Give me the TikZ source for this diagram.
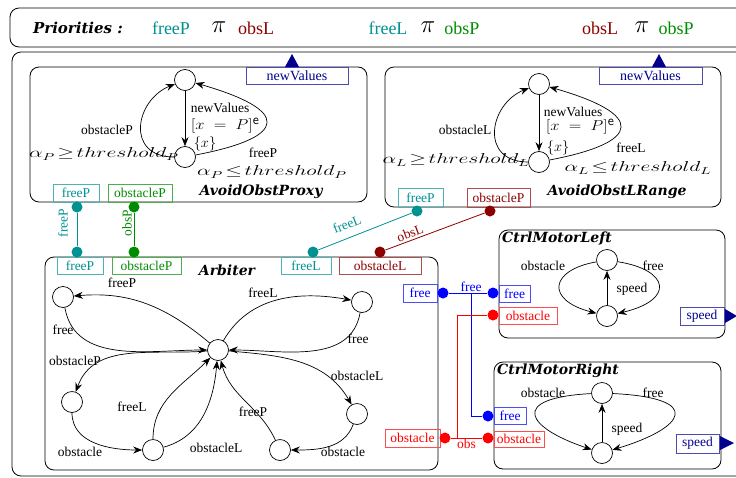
\documentclass[tikz,border=0pt]{standalone}
\usepackage{fontspec}
\setmainfont{Liberation Serif}
\newfontfamily\titlefont{DejaVu Serif}
\usetikzlibrary{positioning,arrows.meta}

\definecolor{cteal}{RGB}{0,145,145}
\definecolor{cgreen}{RGB}{0,140,0}
\definecolor{cdred}{RGB}{140,0,0}
\definecolor{cblue}{RGB}{0,0,255}
\definecolor{cred}{RGB}{255,0,0}
\definecolor{cnavy}{RGB}{0,0,140}

\newcommand{\lbl}{\fontsize{13.5}{15}\selectfont}
\newcommand{\mlbl}{\fontsize{14}{16}\selectfont}
\newcommand{\guard}[1]{\scalebox{1.5}[1]{$#1$}}

\tikzset{
  comp/.style={draw, rounded corners=9pt, line width=0.8pt},
  state/.style={circle, draw, line width=0.7pt, minimum size=21pt, inner sep=0pt},
  port/.style={draw=#1!70, text=#1, rectangle, line width=0.8pt, inner sep=0pt,
    minimum height=18pt, font=\lbl},
  pdot/.style={circle, fill=#1, inner sep=0pt, minimum size=11pt},
  trans/.style={-{Stealth[length=9pt,width=7pt,inset=3pt]}, line width=0.7pt},
  lab/.style={font=\lbl, inner sep=1pt},
  mlab/.style={font=\mlbl, inner sep=1pt},
  title/.style={font=\titlefont\bfseries\itshape\fontsize{14}{16}\selectfont, inner sep=0pt},
  prio/.style={font=\fontsize{18}{20}\selectfont, inner sep=0pt},
  link/.style={draw=#1, line width=0.8pt},
}

\begin{document}
\begin{tikzpicture}[x=1pt, y=-1pt]
\useasboundingbox (0,0) rectangle (736,477);

% priorities
\draw[comp] (10,8) rectangle (760,47);
\node[title, font=\titlefont\bfseries\itshape\fontsize{15}{17}\selectfont] (prtitle) at (78,28) {Priorities :};
\node[prio, text=cteal] (pr1a) at (171,28) {freeP};
\node[prio, font=\fontsize{26}{28}\selectfont] (pr1b) at (219,27) {$\pi$};
\node[prio, text=cdred] (pr1c) at (256,28) {obsL};
\node[prio, text=cteal] (pr2a) at (388,28) {freeL};
\node[prio, font=\fontsize{26}{28}\selectfont] (pr2b) at (428,27) {$\pi$};
\node[prio, text=cgreen] (pr2c) at (462,28) {obsP};
\node[prio, text=cdred] (pr3a) at (600,28) {obsL};
\node[prio, font=\fontsize{26}{28}\selectfont] (pr3b) at (642,27) {$\pi$};
\node[prio, text=cgreen] (pr3c) at (676,28) {obsP};

% outer system
\draw[comp] (12,52) rectangle (760,476);

% AvoidObstProxy
\draw[comp] (30,67) rectangle (367,202);
\node[title] (proxyname) at (261,192) {AvoidObstProxy};
\node[port=cnavy, minimum width=102pt, minimum height=17pt, font=\fontsize{14}{16}\selectfont] (pxnew) at (297,75.5) {newValues};
\fill[cnavy] (285,67) -- (292,54) -- (299,67) -- cycle;
\node[port=cteal, minimum width=46pt] (pxfree) at (76,193) {freeP};
\node[port=cgreen, minimum width=64pt] (pxobs) at (140,193) {obstacleP};
\node[state] (pxT) at (185,80) {};
\node[state] (pxB) at (185,157) {};
\draw[trans] (pxT) -- (pxB);
\draw[trans] (pxB) .. controls +(-60,0) and +(-50,20) .. (pxT);
\draw[trans] (pxB) .. controls +(105,-20) and +(105,30) .. (pxT);
\node[lab] (pxl1) at (220,108) {newValues};
\node[mlab] (pxl2) at (225,126) {\scalebox{1.15}[1]{$[x\;=\;P]$}\raisebox{5pt}{\sffamily e}};
\node[mlab] (pxl3) at (205,144) {$\{x\}$};
\node[lab] (pxl4) at (107,130) {obstacleP};
\node[mlab] (pxl5) at (104,154) {\guard{\alpha_P\!\geq\! threshold_P}};
\node[lab] (pxl6) at (263,153) {freeP};
\node[mlab] (pxl7) at (272,172) {\guard{\alpha_P\!\leq\! threshold_P}};

% AvoidObstLRange
\draw[comp] (385,67) rectangle (721,207);
\node[title] (lrname) at (617,192) {AvoidObstLRange};
\node[port=cnavy, minimum width=103pt, minimum height=17pt, font=\fontsize{14}{16}\selectfont] (lrnew) at (650.5,75.5) {newValues};
\fill[cnavy] (652,67) -- (659,54) -- (666,67) -- cycle;
\node[port=cteal, minimum width=45pt, minimum height=19pt] (lrfree) at (420.5,197.5) {freeP};
\node[port=cdred, minimum width=63pt, minimum height=19pt] (lrobs) at (498.5,197.5) {obstacleP};
\node[state] (lrT) at (539,84) {};
\node[state] (lrB) at (539,162) {};
\draw[trans] (lrT) -- (lrB);
\draw[trans] (lrB) .. controls +(-60,0) and +(-50,20) .. (lrT);
\draw[trans] (lrB) .. controls +(105,-20) and +(105,30) .. (lrT);
\node[lab] (lrl1) at (573,112) {newValues};
\node[mlab] (lrl2) at (580,127) {\scalebox{1.15}[1]{$[x\;=\;P]$}\raisebox{5pt}{\sffamily e}};
\node[mlab] (lrl3) at (558,148) {$\{x\}$};
\node[lab] (lrl4) at (465,130) {obstacleL};
\node[mlab] (lrl5) at (456,160) {\guard{\alpha_L\!\geq\! threshold_L}};
\node[lab] (lrl6) at (631,148) {freeL};
\node[mlab] (lrl7) at (638,168) {\guard{\alpha_L\!\leq\! threshold_L}};

% Arbiter
\draw[comp] (45,257) rectangle (438,470);
\node[title] (arbname) at (227,270) {Arbiter};
\node[port=cteal, minimum width=46pt, minimum height=17pt] (arfreeP) at (80,265.5) {freeP};
\node[port=cgreen, minimum width=69pt, minimum height=17pt] (arobsP) at (146.5,265.5) {obstacleP};
\node[port=cteal, minimum width=50pt, minimum height=17pt] (arfreeL) at (306,265.5) {freeL};
\node[port=cdred, minimum width=82pt, minimum height=17pt] (arobsL) at (380,265.5) {obstacleL};
\node[port=cblue, minimum width=34pt] (arfree) at (420,293) {free};
\node[port=cred, minimum width=55pt] (arobs) at (412.5,438) {obstacle};
\node[state] (arC) at (218,350) {};
\node[state] (ar1) at (63,297) {};
\node[state] (ar2) at (362,302) {};
\node[state] (ar3) at (72,402) {};
\node[state] (ar4) at (153,450) {};
\node[state] (ar5) at (357,414) {};
\node[state] (ar6) at (280,450) {};
\draw[trans] (arC) to[out=140, in=5] (ar1);
\draw[trans] (ar1) to[out=-80, in=180] (arC);
\draw[trans] (arC) to[out=60, in=170] (ar2);
\draw[trans] (ar2) to[out=-100, in=0] (arC);
\draw[trans] (arC) to[out=185, in=70] (ar3);
\draw[trans] (ar3) to[out=-90, in=180] (ar4);
\draw[trans] (ar4) to[out=90, in=225] (arC);
\draw[trans] (ar4) to[out=15, in=-95] (arC);
\draw[trans] (arC) to[out=-5, in=120] (ar5);
\draw[trans] (ar5) to[out=-110, in=0] (ar6);
\draw[trans] (ar6) to[out=115, in=-75] (arC);
\node[lab] (arl1) at (122,283) {freeP};
\node[lab] (arl2) at (63,330) {free};
\node[lab] (arl3) at (263,293) {freeL};
\node[lab] (arl4) at (358,339) {free};
\node[lab] (arl5) at (75,361) {obstacleP};
\node[lab] (arl6) at (80,452) {obstacle};
\node[lab] (arl7) at (132,407) {freeL};
\node[lab] (arl8) at (216,448) {obstacleL};
\node[lab] (arl9) at (357,376) {obstacleL};
\node[lab] (arl10) at (343,452) {obstacle};
\node[lab] (arl11) at (253,412) {freeP};

% CtrlMotorLeft
\draw[comp] (499,230) rectangle (725,338);
\node[title, anchor=west] (mlname) at (502,239) {CtrlMotorLeft};
\node[port=cblue, minimum width=31pt, minimum height=17pt] (mlfree) at (514.5,293.5) {free};
\node[port=cred, minimum width=58pt, minimum height=17pt] (mlobs) at (528,315.5) {obstacle};
\node[port=cnavy, minimum width=44pt] (mlspeed) at (702,316) {speed};
\fill[cnavy] (725,309) -- (737,316) -- (725,323) -- cycle;
\node[state] (mlT) at (607,260) {};
\node[state] (mlB) at (607,316) {};
\draw[trans] (mlB) -- (mlT);
\draw[trans] (mlT) .. controls +(-57,10) and +(-62,-16) .. (mlB);
\draw[trans] (mlT) .. controls +(63,10) and +(68,-16) .. (mlB);
\node[lab] (mll1) at (543,266) {obstacle};
\node[lab] (mll2) at (653,266) {free};
\node[lab] (mll3) at (632,289) {speed};

% CtrlMotorRight
\draw[comp] (494,362) rectangle (721,469);
\node[title, anchor=west] (mrname) at (497,371) {CtrlMotorRight};
\node[port=cblue, minimum width=32pt, minimum height=17pt] (mrfree) at (510,415.5) {free};
\node[port=cred, minimum width=50pt, minimum height=16pt] (mrobs) at (519,439) {obstacle};
\node[port=cnavy, minimum width=43pt, minimum height=19pt] (mrspeed) at (697.5,443.5) {speed};
\fill[cnavy] (720,436) -- (734,443) -- (720,450) -- cycle;
\node[state] (mrT) at (602,393) {};
\node[state] (mrB) at (602,453) {};
\draw[trans] (mrB) -- (mrT);
\draw[trans] (mrT) .. controls +(-95,5) and +(-75,-25) .. (mrB);
\draw[trans] (mrT) .. controls +(103,5) and +(83,-25) .. (mrB);
\node[lab] (mrl1) at (543,393) {obstacle};
\node[lab] (mrl2) at (653,393) {free};
\node[lab] (mrl3) at (627,429) {speed};

% connection dots
\node[pdot=cteal] (d1) at (77,207) {};
\node[pdot=cgreen] (d2) at (134,207) {};
\node[pdot=cteal] (d3) at (77,252) {};
\node[pdot=cgreen] (d4) at (134,252) {};
\node[pdot=cteal] (d5) at (417,211) {};
\node[pdot=cdred] (d6) at (490,211) {};
\node[pdot=cteal] (d7) at (313,252) {};
\node[pdot=cdred] (d8) at (380,252) {};
\node[pdot=cblue] (d9) at (443,293) {};
\node[pdot=cblue] (d10) at (493,293) {};
\node[pdot=cred] (d11) at (493,315) {};
\node[pdot=cblue] (d12) at (488,416) {};
\node[pdot=cred] (d13) at (445,438) {};
\node[pdot=cred] (d14) at (488,438) {};
\coordinate (jfree) at (471,293);
\coordinate (jobs) at (457,438);

% connectors
\draw[link=cteal] (d1) -- (d3);
\node[lab, text=cteal, rotate=90] (c1) at (63,223) {freeP};
\draw[link=cgreen] (d2) -- (d4);
\node[lab, text=cgreen, rotate=90] (c2) at (127,223) {obsP};
\draw[link=cteal] (d7) -- (d5);
\node[lab, text=cteal, rotate=21.5] (c3) at (347,224) {freeL};
\draw[link=cdred] (d8) -- (d6);
\node[lab, text=cdred, rotate=20.4] (c4) at (410,233) {obsL};
\draw[link=cblue] (d9) -- node[lab, text=cblue, above, pos=0.58] (c5) {free} (d10);
\draw[link=cblue] (jfree) |- (d12);
\draw[link=cred] (d13) -- node[lab, text=cred, below, pos=0.5] (c6) {obs} (d14);
\draw[link=cred] (d11) -| (jobs);
\end{tikzpicture}
\end{document}
